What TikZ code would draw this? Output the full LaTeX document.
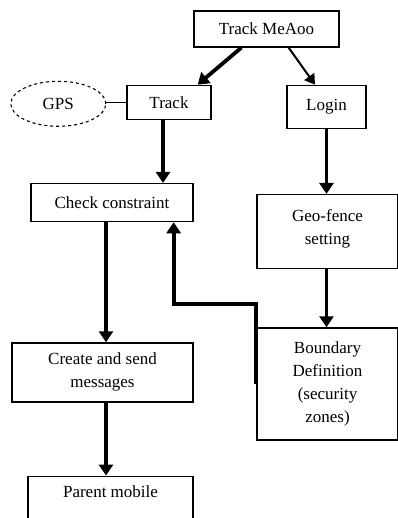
\documentclass[tikz,border=0pt]{standalone}
\usepackage{fontspec}
\setmainfont{Liberation Serif}
\usetikzlibrary{arrows.meta, positioning, shapes.geometric}

\begin{document}
\begin{tikzpicture}[
    node distance=37pt,
    box/.style={rectangle, draw, line width=1.3pt, align=center, inner sep=0pt,
                font=\fontsize{17}{23}\selectfont},
    arrow/.style={-{Triangle[width=14pt,length=11pt]}, line width=3.8pt},
    thinarrow/.style={-{Triangle[width=12pt,length=10pt]}, line width=2pt}
]
\useasboundingbox (0,0) rectangle (397pt,-518pt);

% Tracking part
\node[box, minimum width=145pt, minimum height=36pt] (meaoo) at (266.5pt,-29pt) {Track MeAoo};
\node[box, minimum width=84pt, minimum height=34pt, below=37pt of meaoo, xshift=-97.5pt] (track) {Track};
\node[ellipse, draw, dashed, line width=1.1pt, minimum width=95pt, minimum height=45pt, inner sep=0pt,
      font=\fontsize{17}{23}\selectfont, left=20pt of track, yshift=-1.5pt] (gps) {GPS};
\node[box, minimum width=162pt, minimum height=38pt, below=63pt of track, xshift=-57pt] (check) {Check constraint};
\node[box, minimum width=181pt, minimum height=59pt, below=120pt of check, xshift=-9.5pt] (create) {Create and send\\messages};
\node[box, minimum width=165pt, inner ysep=9pt, text depth=45pt, below=73pt of create, xshift=8pt] (parent) {Parent mobile};

\draw[line width=1pt] (track.west) -- (track.west -| gps.east);
\draw[arrow] ([xshift=48pt]meaoo.south west) -- ([xshift=-14pt]track.north east);
\draw[arrow] ([xshift=-6pt]track.south) -- ([xshift=-6pt]track.south |- check.north);
\draw[arrow] ([xshift=-6pt]check.south) -- ([xshift=-6pt]check.south |- create.north);
\draw[arrow] ([xshift=-6pt]check.south |- create.south) -- ([xshift=-6pt]check.south |- parent.north);

% Geo-fence part
\node[box, minimum width=79pt, minimum height=43pt, below=37pt of meaoo, xshift=60pt] (login) {Login};
\node[box, minimum width=141pt, minimum height=74pt, text depth=10pt, below=65pt of login, xshift=1pt] (geo) {Geo-fence\\setting};
\node[box, minimum width=141pt, minimum height=112pt, below=58pt of geo] (bound) {Boundary\\Definition\\(security\\zones)};

\draw[thinarrow] ([xshift=-51pt]meaoo.south east) -- ([xshift=-11.5pt]login.north);
\draw[arrow] (login.south) -- (login.south |- geo.north);
\draw[arrow] (login.south |- geo.south) -- (login.south |- bound.north);
\draw[arrow] (bound.west) -- ++(0,80pt) -| ([xshift=-20pt]check.south east);

\end{tikzpicture}
\end{document}
